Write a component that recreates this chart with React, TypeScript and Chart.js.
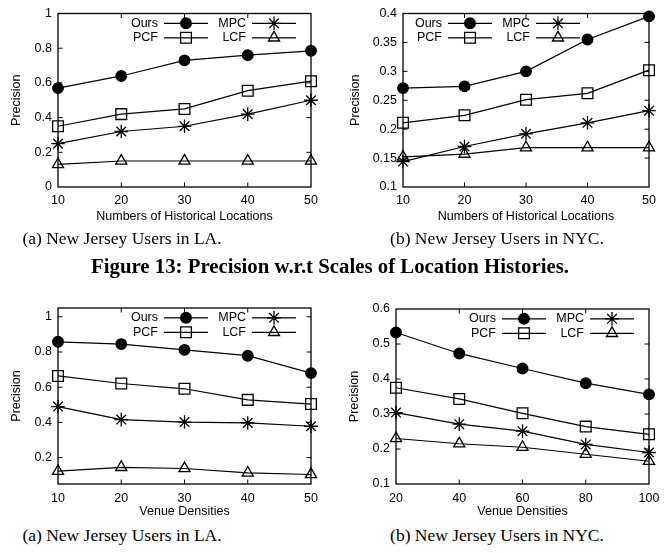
import React, { useEffect, useRef } from "react";
import { Chart, registerables } from "chart.js";
import { drawPoint } from "chart.js/helpers";

Chart.register(...registerables);

// ---------- data ----------
const seriesLabels = ["Ours", "PCF", "MPC", "LCF"];

const histX = [10, 20, 30, 40, 50];
const laHistOurs = [0.57, 0.64, 0.73, 0.76, 0.785];
const laHistPCF = [0.35, 0.42, 0.45, 0.555, 0.61];
const laHistMPC = [0.25, 0.32, 0.35, 0.42, 0.5];
const laHistLCF = [0.13, 0.15, 0.15, 0.15, 0.15];
const laHistYTicks = [0, 0.2, 0.4, 0.6, 0.8, 1];

const nycHistOurs = [0.271, 0.274, 0.3, 0.355, 0.395];
const nycHistPCF = [0.211, 0.224, 0.251, 0.262, 0.302];
const nycHistMPC = [0.144, 0.17, 0.192, 0.211, 0.232];
const nycHistLCF = [0.152, 0.157, 0.168, 0.168, 0.168];
const nycHistYTicks = [0.1, 0.15, 0.2, 0.25, 0.3, 0.35, 0.4];

const laDenX = [10, 20, 30, 40, 50];
const laDenOurs = [0.858, 0.845, 0.812, 0.779, 0.68];
const laDenPCF = [0.664, 0.621, 0.591, 0.528, 0.504];
const laDenMPC = [0.49, 0.416, 0.402, 0.397, 0.378];
const laDenLCF = [0.123, 0.145, 0.138, 0.113, 0.104];
const laDenYTicks = [0.2, 0.4, 0.6, 0.8, 1];

const nycDenX = [20, 40, 60, 80, 100];
const nycDenOurs = [0.533, 0.473, 0.43, 0.388, 0.356];
const nycDenPCF = [0.375, 0.343, 0.302, 0.264, 0.242];
const nycDenMPC = [0.304, 0.271, 0.251, 0.213, 0.19];
const nycDenLCF = [0.23, 0.215, 0.205, 0.185, 0.165];
const nycDenYTicks = [0.1, 0.2, 0.3, 0.4, 0.5, 0.6];

const xTitleHist = "Numbers of Historical Locations";
const xTitleDen = "Venue Densities";
const yTitle = "Precision";
const captionA = "(a) New Jersey Users in LA.";
const captionB = "(b) New Jersey Users in NYC.";
const figureTitle = "Figure 13: Precision w.r.t Scales of Location Histories.";

// ---------- styles ----------
const FONT = "'Liberation Sans', Arial, sans-serif";
const SERIF = "'Liberation Serif', 'Times New Roman', serif";
const FS = 12.5;
const pointStyles = ["circle", "rect", "star", "triangle"];
const pointRadii = [5.3, 7.6, 6.8, 6.4];

const fmt = (v: number) => String(Math.round(v * 100) / 100);

const framePlugin = {
  id: "gpFrame",
  beforeDatasetsDraw(chart: any) {
    const { ctx, chartArea: a, scales } = chart;
    ctx.save();
    ctx.strokeStyle = "#000";
    ctx.lineWidth = 1.3;
    ctx.strokeRect(a.left, a.top, a.right - a.left, a.bottom - a.top);
    const L = 4.5;
    ctx.lineWidth = 1;
    ctx.beginPath();
    for (const t of scales.y.ticks) {
      const y = scales.y.getPixelForValue(t.value);
      if (Math.abs(y - a.top) < 1 || Math.abs(y - a.bottom) < 1) continue;
      ctx.moveTo(a.left, y);
      ctx.lineTo(a.left + L, y);
      ctx.moveTo(a.right, y);
      ctx.lineTo(a.right - L, y);
    }
    for (const t of scales.x.ticks) {
      const x = scales.x.getPixelForValue(t.value);
      if (Math.abs(x - a.left) < 1 || Math.abs(x - a.right) < 1) continue;
      ctx.moveTo(x, a.bottom);
      ctx.lineTo(x, a.bottom - L);
      ctx.moveTo(x, a.top);
      ctx.lineTo(x, a.top + L);
    }
    ctx.stroke();
    ctx.restore();
  },
};

const legendPlugin = {
  id: "gpLegend",
  afterDatasetsDraw(chart: any, _args: any, opts: any) {
    const { ctx, chartArea: a } = chart;
    ctx.save();
    ctx.font = `${FS}px ${FONT}`;
    ctx.textAlign = "right";
    ctx.textBaseline = "middle";
    chart.data.datasets.forEach((ds: any, i: number) => {
      const col = Math.floor(i / 2);
      const row = i % 2;
      const tx = opts.x + col * 88;
      const ty = a.top + 9.8 + row * 14.5;
      ctx.fillStyle = "#000";
      ctx.fillText(ds.label, tx, ty);
      ctx.strokeStyle = "#000";
      ctx.lineWidth = ds.borderWidth;
      ctx.beginPath();
      ctx.moveTo(tx + 6, ty);
      ctx.lineTo(tx + 50, ty);
      ctx.stroke();
      ctx.fillStyle = ds.pointBackgroundColor;
      ctx.lineWidth = ds.pointBorderWidth;
      drawPoint(ctx, { pointStyle: ds.pointStyle, radius: ds.pointRadius, rotation: 0, borderWidth: ds.pointBorderWidth }, tx + 28, ty);
    });
    ctx.restore();
  },
};

type Panel = {
  xs: number[];
  series: number[][];
  xMin: number;
  xMax: number;
  xStep: number;
  yMin: number;
  yMax: number;
  yTicks: number[];
  xTitle: string;
  area: { left: number; top: number; right: number; bottom: number };
  legendX: number;
  yTitlePad: number;
  xTickPad: number;
  xTitlePad: number;
};

const W = 334;
const H = 230;

function makeConfig(p: Panel): any {
  const font = { family: FONT, size: FS };
  return {
    type: "line",
    data: {
      datasets: p.series.map((ys, i) => ({
        label: seriesLabels[i],
        data: ys.map((y, j) => ({ x: p.xs[j], y })),
        borderColor: "#000",
        borderWidth: 1.2,
        pointStyle: pointStyles[i],
        pointRadius: pointRadii[i],
        pointBorderWidth: 1.3,
        pointBorderColor: "#000",
        pointBackgroundColor: i === 0 ? "#000" : "rgba(0,0,0,0)",
        tension: 0,
        fill: false,
        clip: false,
      })),
    },
    options: {
      responsive: false,
      animation: false,
      events: [],
      layout: { padding: { left: 0, top: p.area.top, right: W - p.area.right, bottom: 0 } },
      plugins: {
        legend: { display: false },
        tooltip: { enabled: false },
        gpLegend: { x: p.legendX },
      },
      scales: {
        x: {
          type: "linear",
          min: p.xMin,
          max: p.xMax,
          grid: { display: false, drawTicks: false, tickLength: 0 },
          border: { display: false },
          ticks: { stepSize: p.xStep, padding: p.xTickPad, color: "#000", font, maxRotation: 0, autoSkip: false, callback: (v: number) => fmt(v) },
          title: { display: true, text: p.xTitle, color: "#000", font, padding: { top: 0, bottom: p.xTitlePad } },
          afterFit: (s: any) => {
            s.height = H - p.area.bottom;
          },
        },
        y: {
          type: "linear",
          min: p.yMin,
          max: p.yMax,
          grid: { display: false, drawTicks: false, tickLength: 0 },
          border: { display: false },
          afterBuildTicks: (s: any) => {
            s.ticks = p.yTicks.map((v) => ({ value: v }));
          },
          ticks: { padding: 6, color: "#000", font, autoSkip: false, callback: (v: number) => fmt(v) },
          title: { display: true, text: yTitle, color: "#000", font, padding: { top: p.yTitlePad, bottom: 0 } },
          afterFit: (s: any) => {
            s.width = p.area.left;
          },
        },
      },
    },
    plugins: [framePlugin, legendPlugin],
  };
}

const panels: { left: number; top: number; p: Panel }[] = [
  {
    left: 0,
    top: 0,
    p: {
      xs: histX, series: [laHistOurs, laHistPCF, laHistMPC, laHistLCF],
      xMin: 10, xMax: 50, xStep: 10, yMin: 0, yMax: 1, yTicks: laHistYTicks,
      xTitle: xTitleHist, area: { left: 58, top: 11, right: 311, bottom: 187 },
      legendX: 158, yTitlePad: 9.2, xTickPad: 6.5, xTitlePad: 5.5,
    },
  },
  {
    left: 334,
    top: 0,
    p: {
      xs: histX, series: [nycHistOurs, nycHistPCF, nycHistMPC, nycHistLCF],
      xMin: 10, xMax: 50, xStep: 10, yMin: 0.1, yMax: 0.4, yTicks: nycHistYTicks,
      xTitle: xTitleHist, area: { left: 69, top: 11, right: 315, bottom: 187 },
      legendX: 108, yTitlePad: 14.2, xTickPad: 6.5, xTitlePad: 5.5,
    },
  },
  {
    left: 0,
    top: 290,
    p: {
      xs: laDenX, series: [laDenOurs, laDenPCF, laDenMPC, laDenLCF],
      xMin: 10, xMax: 50, xStep: 10, yMin: 0.05, yMax: 1.05, yTicks: laDenYTicks,
      xTitle: xTitleDen, area: { left: 58, top: 18, right: 311, bottom: 194 },
      legendX: 158, yTitlePad: 9.2, xTickPad: 7, xTitlePad: 0.5,
    },
  },
  {
    left: 334,
    top: 290,
    p: {
      xs: nycDenX, series: [nycDenOurs, nycDenPCF, nycDenMPC, nycDenLCF],
      xMin: 20, xMax: 100, xStep: 20, yMin: 0.1, yMax: 0.6, yTicks: nycDenYTicks,
      xTitle: xTitleDen, area: { left: 62, top: 19, right: 315, bottom: 194 },
      legendX: 162, yTitlePad: 13.2, xTickPad: 7, xTitlePad: 0.5,
    },
  },
];

function Panel({ p, left, top }: { p: Panel; left: number; top: number }) {
  const ref = useRef<HTMLCanvasElement | null>(null);
  useEffect(() => {
    if (!ref.current) return;
    const chart = new Chart(ref.current, makeConfig(p));
    return () => chart.destroy();
  }, []);
  return (
    <canvas
      ref={ref}
      width={W}
      height={H}
      style={{ position: "absolute", left, top, width: W, height: H }}
    />
  );
}

function Text({ text, cx, cy, size, bold }: { text: string; cx: number; cy: number; size: number; bold?: boolean }) {
  return (
    <div
      style={{
        position: "absolute",
        left: cx - 300,
        width: 600,
        top: cy - 12,
        height: 24,
        lineHeight: "24px",
        textAlign: "center",
        fontFamily: SERIF,
        fontSize: size,
        fontWeight: bold ? "bold" : "normal",
        color: "#000",
        whiteSpace: "nowrap",
      }}
    >
      {text}
    </div>
  );
}

export default function App() {
  useEffect(() => {
    document.body.style.margin = "0";
  }, []);
  return (
    <div style={{ position: "relative", width: 668, height: 553, background: "#fff", overflow: "hidden" }}>
      {panels.map((pn, i) => (
        <Panel key={i} p={pn.p} left={pn.left} top={pn.top} />
      ))}
      <Text text={captionA} cx={122} cy={238} size={17.5} />
      <Text text={captionB} cx={497} cy={238} size={17.5} />
      <Text text={figureTitle} cx={330} cy={266} size={20.8} bold />
      <Text text={captionA} cx={122} cy={535} size={17.5} />
      <Text text={captionB} cx={497} cy={535} size={17.5} />
    </div>
  );
}
